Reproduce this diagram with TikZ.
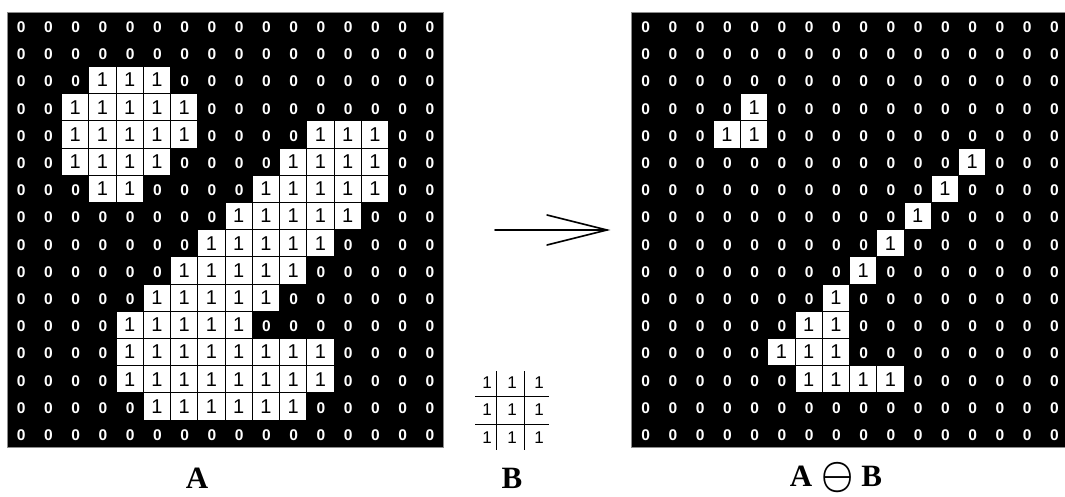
\documentclass[tikz,border=0pt]{standalone}
\usepackage{fontspec}
\usepackage{graphicx}
\newfontfamily\cellfont{Liberation Sans}
\newfontfamily\labelfont{Liberation Serif}

% cell pitch of the binary images
\def\cw{27.25}
\def\ch{27.2}

\tikzset{
  gridframe/.style={fill=black, draw=black!45, line width=0.8pt},
  zerocell/.style={inner sep=0pt, text=white,
    font=\cellfont\bfseries\fontsize{15.5}{15.5}\selectfont},
  onecell/.style={rectangle, inner sep=0pt, fill=white, draw=black,
    line width=0.9pt, minimum width=\cw pt, minimum height=\ch pt,
    font=\cellfont\fontsize{20}{20}\selectfont},
  kernelone/.style={inner sep=0pt, font=\cellfont\fontsize{17}{17}\selectfont},
  kernelline/.style={line width=0.9pt},
  arrowline/.style={line width=1.6pt, line cap=round},
  caption/.style={inner sep=0pt, font=\labelfont\bfseries\fontsize{31}{31}\selectfont},
}

% #1 name prefix, #2 left edge, #3 top edge, #4 rows of 0/1 entries
\newcommand\binarygrid[4]{%
  \foreach \row [count=\r from 0] in {#4} {
    \foreach \v [count=\c from 0] in \row {
      \ifnum\v=1
        \node[onecell] (#1-\r-\c) at (#2+\c*\cw+\cw/2, #3+\r*\ch+\ch/2) {1};
      \else
        \node[zerocell] (#1-\r-\c) at (#2+\c*\cw+\cw/2+0.5, #3+\r*\ch+\ch/2+1.5) {0};
      \fi
    }
  }
}

\begin{document}
\begin{tikzpicture}[x=1pt, y=-1pt]
\useasboundingbox (0,0) rectangle (1065,496);

% image A
\path[gridframe] (7,12) rectangle (7+16*\cw, 12+16*\ch);
\binarygrid{a}{7}{12}{
  {0,0,0,0,0,0,0,0,0,0,0,0,0,0,0,0},
  {0,0,0,0,0,0,0,0,0,0,0,0,0,0,0,0},
  {0,0,0,1,1,1,0,0,0,0,0,0,0,0,0,0},
  {0,0,1,1,1,1,1,0,0,0,0,0,0,0,0,0},
  {0,0,1,1,1,1,1,0,0,0,0,1,1,1,0,0},
  {0,0,1,1,1,1,0,0,0,0,1,1,1,1,0,0},
  {0,0,0,1,1,0,0,0,0,1,1,1,1,1,0,0},
  {0,0,0,0,0,0,0,0,1,1,1,1,1,0,0,0},
  {0,0,0,0,0,0,0,1,1,1,1,1,0,0,0,0},
  {0,0,0,0,0,0,1,1,1,1,1,0,0,0,0,0},
  {0,0,0,0,0,1,1,1,1,1,0,0,0,0,0,0},
  {0,0,0,0,1,1,1,1,1,0,0,0,0,0,0,0},
  {0,0,0,0,1,1,1,1,1,1,1,1,0,0,0,0},
  {0,0,0,0,1,1,1,1,1,1,1,1,0,0,0,0},
  {0,0,0,0,0,1,1,1,1,1,1,0,0,0,0,0},
  {0,0,0,0,0,0,0,0,0,0,0,0,0,0,0,0}}

% erosion result
\path[gridframe] (631.5,12) rectangle (631.5+16*\cw, 12+16*\ch);
\binarygrid{e}{631.5}{12}{
  {0,0,0,0,0,0,0,0,0,0,0,0,0,0,0,0},
  {0,0,0,0,0,0,0,0,0,0,0,0,0,0,0,0},
  {0,0,0,0,0,0,0,0,0,0,0,0,0,0,0,0},
  {0,0,0,0,1,0,0,0,0,0,0,0,0,0,0,0},
  {0,0,0,1,1,0,0,0,0,0,0,0,0,0,0,0},
  {0,0,0,0,0,0,0,0,0,0,0,0,1,0,0,0},
  {0,0,0,0,0,0,0,0,0,0,0,1,0,0,0,0},
  {0,0,0,0,0,0,0,0,0,0,1,0,0,0,0,0},
  {0,0,0,0,0,0,0,0,0,1,0,0,0,0,0,0},
  {0,0,0,0,0,0,0,0,1,0,0,0,0,0,0,0},
  {0,0,0,0,0,0,0,1,0,0,0,0,0,0,0,0},
  {0,0,0,0,0,0,1,1,0,0,0,0,0,0,0,0},
  {0,0,0,0,0,1,1,1,0,0,0,0,0,0,0,0},
  {0,0,0,0,0,0,1,1,1,1,0,0,0,0,0,0},
  {0,0,0,0,0,0,0,0,0,0,0,0,0,0,0,0},
  {0,0,0,0,0,0,0,0,0,0,0,0,0,0,0,0}}

% arrow between the images
\coordinate (arrowtail) at (495,230);
\coordinate (arrowtip) at (607,230);
\coordinate (barbup) at (547,215);
\coordinate (barbdown) at (547,245);
\draw[arrowline] (arrowtail) -- (arrowtip);
\draw[arrowline, line join=miter] (barbup) -- (arrowtip) -- (barbdown);

% structuring element B
\foreach \y [count=\r from 0] in {383,410,438} {
  \foreach \x [count=\c from 0] in {487,512,539} {
    \node[kernelone] (k-\r-\c) at (\x,\y) {1};
  }
}
\coordinate (kv1top) at (496,371);  \coordinate (kv1bot) at (496,450);
\coordinate (kv2top) at (524,371);  \coordinate (kv2bot) at (524,450);
\coordinate (kh1left) at (475,396); \coordinate (kh1right) at (549,396);
\coordinate (kh2left) at (475,424); \coordinate (kh2right) at (549,424);
\draw[kernelline] (kv1top) -- (kv1bot);
\draw[kernelline] (kv2top) -- (kv2bot);
\draw[kernelline] (kh1left) -- (kh1right);
\draw[kernelline] (kh2left) -- (kh2right);

% captions
\node[caption] (capA) at (197,478) {A};
\node[caption] (capB) at (512,478) {B};
\node[caption] (capAB) at (836,478) {A\hspace{9pt}\raisebox{-1.5pt}{\scalebox{1.45}[1.6]{\boldmath$\ominus$}}\hspace{8pt}B};
\end{tikzpicture}
\end{document}
